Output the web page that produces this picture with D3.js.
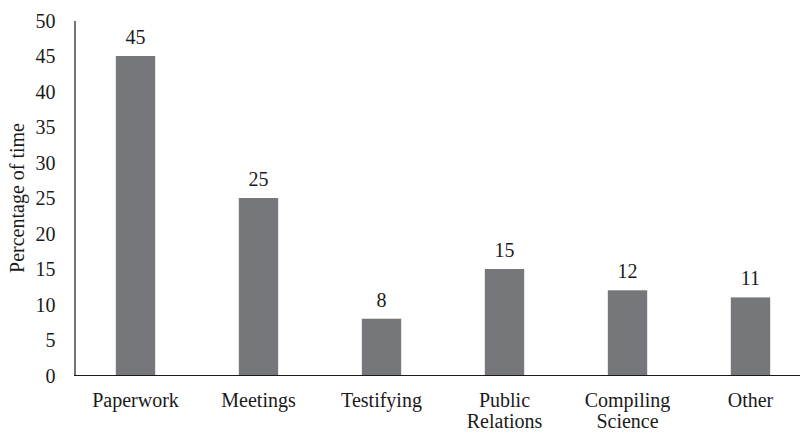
<!DOCTYPE html>
<html>
<head>
<meta charset="utf-8">
<script src="https://cdn.jsdelivr.net/npm/d3@7"></script>
<style>
  body { margin: 0; background: #fff; }
  svg text { font-family: "Liberation Serif", Tinos, "Times New Roman", Times, "DejaVu Serif", serif; fill: #1a1a1a; }
</style>
</head>
<body>
<div id="chart"></div>
<script>
var categories = [["Paperwork"], ["Meetings"], ["Testifying"], ["Public", "Relations"], ["Compiling", "Science"], ["Other"]];
var values = [45, 25, 8, 15, 12, 11];
var yTicks = [0, 5, 10, 15, 20, 25, 30, 35, 40, 45, 50];

var width = 801, height = 433;
var fontSize = 20;
var serif = "'Liberation Serif', Tinos, 'Times New Roman', Times, 'DejaVu Serif', serif";

var svg = d3.select("#chart")
  .append("svg")
  .attr("width", width)
  .attr("height", height)
  .attr("font-family", serif);

var x = d3.scaleBand()
  .domain(d3.range(categories.length))
  .range([74, 812])
  .paddingInner(0.68)
  .paddingOuter(0.34);

var y = d3.scaleLinear()
  .domain([0, 50])
  .range([375.5, 20.5]);

// bars
svg.append("g")
  .selectAll("rect")
  .data(values)
  .enter()
  .append("rect")
  .attr("x", function(d, i) { return x(i); })
  .attr("y", function(d) { return y(d); })
  .attr("width", x.bandwidth())
  .attr("height", function(d) { return y(0) - y(d); })
  .attr("fill", "#76777b");

// value labels
svg.append("g")
  .selectAll("text")
  .data(values)
  .enter()
  .append("text")
  .attr("x", function(d, i) { return x(i) + x.bandwidth() / 2; })
  .attr("y", function(d) { return y(d) - 12; })
  .attr("text-anchor", "middle")
  .attr("font-size", fontSize + "px")
  .text(function(d) { return d; });

// y axis
var yAxis = svg.append("g")
  .attr("transform", "translate(74.5,0)")
  .call(d3.axisLeft(y).tickValues(yTicks).tickSize(0).tickPadding(19))
  .attr("font-family", serif)
  .attr("font-size", fontSize);
yAxis.select(".domain").attr("stroke", "#1a1a1a").attr("stroke-width", 1.2);
yAxis.selectAll("text")
  .attr("fill", "#1a1a1a")
  .attr("dy", "0.34em");

// x axis line
svg.append("line")
  .attr("x1", 74)
  .attr("x2", 800)
  .attr("y1", y(0))
  .attr("y2", y(0))
  .attr("stroke", "#1a1a1a")
  .attr("stroke-width", 1.2);

// category labels
var xl = svg.append("g")
  .selectAll("text")
  .data(categories)
  .enter()
  .append("text")
  .attr("text-anchor", "middle")
  .attr("font-size", fontSize + "px")
  .attr("transform", function(d, i) {
    return "translate(" + (x(i) + x.bandwidth() / 2) + ",407)";
  });
xl.selectAll("tspan")
  .data(function(d) { return d; })
  .enter()
  .append("tspan")
  .attr("x", 0)
  .attr("dy", function(d, i) { return i === 0 ? 0 : 21; })
  .text(function(d) { return d; });

// y axis title
svg.append("text")
  .attr("transform", "translate(24," + (y(25)) + ") rotate(-90)")
  .attr("text-anchor", "middle")
  .attr("font-size", fontSize + "px")
  .text("Percentage of time");
</script>
</body>
</html>
